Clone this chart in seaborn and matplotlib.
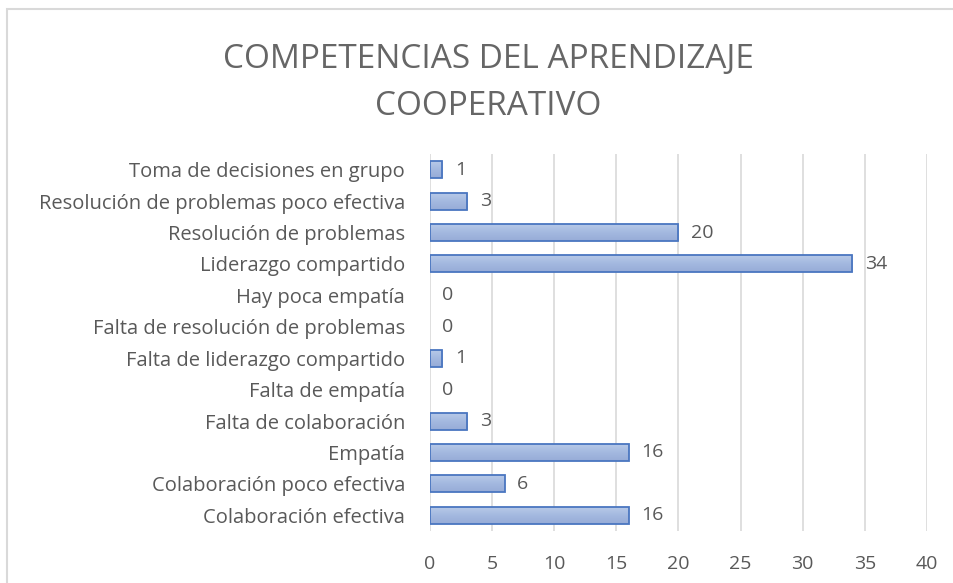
import matplotlib
matplotlib.use('Agg')
import matplotlib.pyplot as plt
from matplotlib.colors import LinearSegmentedColormap
from matplotlib.patches import Rectangle
import numpy as np
import pandas as pd
import seaborn as sns

categories = [
  'Toma de decisiones en grupo',
  'Resolución de problemas poco efectiva',
  'Resolución de problemas',
  'Liderazgo compartido',
  'Hay poca empatía',
  'Falta de resolución de problemas',
  'Falta de liderazgo compartido',
  'Falta de empatía',
  'Falta de colaboración',
  'Empatía',
  'Colaboración poco efectiva',
  'Colaboración efectiva',
]
counts = [1, 3, 20, 34, 0, 0, 1, 0, 3, 16, 6, 16]
x_ticks = [0, 5, 10, 15, 20, 25, 30, 35, 40]
title = 'COMPETENCIAS DEL APRENDIZAJE\nCOOPERATIVO'

grey = '#595959'
grid_grey = '#d9d9d9'
bar_edge = '#4a76c0'
grad = LinearSegmentedColormap.from_list('bar_grad', ['#b7c9e8', '#a3b8df', '#97acd7'])

sns.set_theme(style='white')
plt.rcParams['font.family'] = ['Open Sans', 'DejaVu Sans']

df = pd.DataFrame({'cat': categories, 'n': counts})

fig = plt.figure(figsize=(9.54, 5.83), dpi=100)
ax = fig.add_axes([430 / 954, 1 - 531 / 583, (927 - 430) / 954, (531 - 154) / 583])

sns.barplot(data=df, x='n', y='cat', order=categories, color='#a6bbe0',
            saturation=1, width=0.54, edgecolor=bar_edge, linewidth=1.3, ax=ax)

ax.set_xlim(0, 40)
ax.set_xticks(x_ticks)
ax.set_ylim(len(categories) - 0.5, -0.5)
ax.set_xlabel('')
ax.set_ylabel('')
ax.xaxis.grid(True, color=grid_grey, linewidth=1.2)
ax.set_axisbelow(True)
for s in ax.spines.values():
  s.set_visible(False)
ax.tick_params(axis='x', length=0, pad=17, labelsize=14, labelcolor=grey)
ax.tick_params(axis='y', length=0, pad=18, labelsize=14.5, labelcolor=grey)

# vertical gradient inside each bar, hide empty bars
gradient = np.linspace(0, 1, 64).reshape(-1, 1)
for patch, v in zip(ax.patches, counts):
  if v == 0:
    patch.set_visible(False)
    continue
  x0, y0 = patch.get_x(), patch.get_y()
  w, h = patch.get_width(), patch.get_height()
  patch.set_facecolor('none')
  patch.set_zorder(3)
  im = ax.imshow(gradient, cmap=grad, aspect='auto', extent=(x0, x0 + w, y0 + h, y0),
                 origin='upper', zorder=2.5)
  im.set_clip_path(patch)
ax.set_xlim(0, 40)
ax.set_ylim(len(categories) - 0.5, -0.5)

ax.bar_label(ax.containers[0], labels=[str(v) for v in counts], padding=9,
             fontsize=14, color=grey)

fig.text(488 / 954, 1 - 83 / 583, title, ha='center', va='center',
         fontsize=24, color='#666666', linespacing=1.55)

# chart area border (only top and left visible in the crop)
fig.patches.append(Rectangle((7.5 / 954, -0.1), 1.2, 1 - 9.5 / 583 + 0.1,
                             transform=fig.transFigure, fill=False,
                             edgecolor=grid_grey, linewidth=1.5))

fig.savefig('out.png', dpi=100)
